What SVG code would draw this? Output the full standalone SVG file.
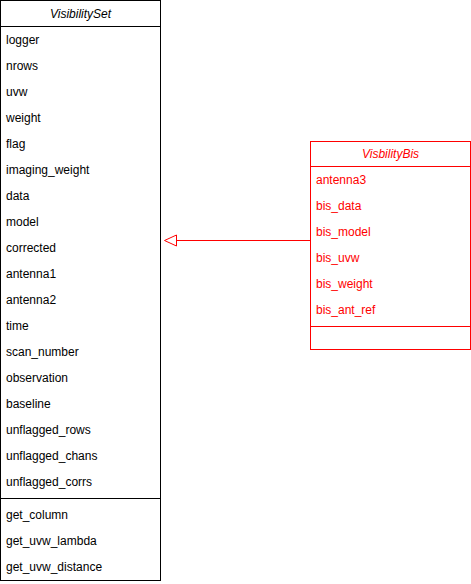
<svg xmlns="http://www.w3.org/2000/svg" width="471" height="584" viewBox="0 0 471 584">
<style>
text{font-family:"Liberation Sans",Arial,sans-serif;font-size:12px;dominant-baseline:central}
.t{font-style:italic;text-anchor:middle}
.box{fill:#fff;stroke:#000;stroke-width:1}
.ln{stroke:#000;stroke-width:1}
.r .box{stroke:#ff0000}
.r .ln{stroke:#ff0000}
.r text{fill:#ff0000}
</style>
<rect width="471" height="584" fill="#fff"/>
<g id="VisibilitySet">
<rect class="box" x="0.5" y="0.5" width="160" height="580"/>
<line class="ln" x1="0.5" y1="26.5" x2="160.5" y2="26.5"/>
<text class="t" x="80.5" y="13.5">VisibilitySet</text>
<text x="6" y="40">logger</text>
<text x="6" y="66">nrows</text>
<text x="6" y="92">uvw</text>
<text x="6" y="118">weight</text>
<text x="6" y="144">flag</text>
<text x="6" y="170">imaging_weight</text>
<text x="6" y="196">data</text>
<text x="6" y="222">model</text>
<text x="6" y="248">corrected</text>
<text x="6" y="274">antenna1</text>
<text x="6" y="300">antenna2</text>
<text x="6" y="326">time</text>
<text x="6" y="352">scan_number</text>
<text x="6" y="378">observation</text>
<text x="6" y="404">baseline</text>
<text x="6" y="430">unflagged_rows</text>
<text x="6" y="456">unflagged_chans</text>
<text x="6" y="482">unflagged_corrs</text>
<line class="ln" x1="0.5" y1="498.5" x2="160.5" y2="498.5"/>
<text x="6" y="515">get_column</text>
<text x="6" y="541">get_uvw_lambda</text>
<text x="6" y="567">get_uvw_distance</text>
</g>
<g id="VisbilityBis" class="r">
<rect class="box" x="310.5" y="141.5" width="160" height="208"/>
<line class="ln" x1="310.5" y1="166.5" x2="470.5" y2="166.5"/>
<text class="t" x="390.5" y="154">VisbilityBis</text>
<text x="316" y="180">antenna3</text>
<text x="316" y="206">bis_data</text>
<text x="316" y="232">bis_model</text>
<text x="316" y="258">bis_uvw</text>
<text x="316" y="284">bis_weight</text>
<text x="316" y="310">bis_ant_ref</text>
<line class="ln" x1="310.5" y1="326.5" x2="470.5" y2="326.5"/>
</g>
<g id="connectors">
<line x1="310" y1="240.5" x2="176" y2="240.5" stroke="#ff0000" stroke-width="1"/>
<polygon points="164.5,240.5 176.5,235 176.5,246" fill="#fff" stroke="#ff0000" stroke-width="1"/>
</g>
</svg>
